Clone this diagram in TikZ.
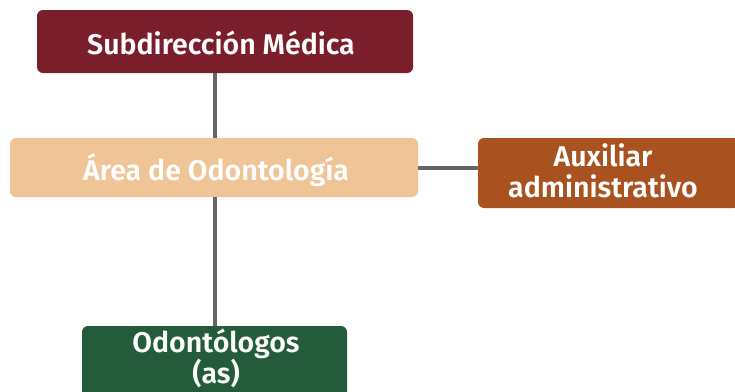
\documentclass[tikz,border=0pt]{standalone}
\usepackage{fontspec}
\setmainfont{Fira Sans}[UprightFont={* SemiBold}]
\definecolor{maroon}{HTML}{7B1E2C}
\definecolor{tan}{HTML}{EFC597}
\definecolor{rust}{HTML}{A9521F}
\definecolor{forest}{HTML}{245B3A}
\definecolor{linec}{HTML}{666666}
\begin{document}
\begin{tikzpicture}[x=1pt,y=-1pt,
  box/.style={rounded corners=6pt,draw=none},
  lbl/.style={text=white,font=\fontsize{28.5}{31}\selectfont,align=center,inner sep=0pt},
  conn/.style={draw=linec,line width=3.2pt}]
\useasboundingbox (0,0) rectangle (735,391);
\fill[white] (0,0) rectangle (735,391);
\path[fill=maroon,box] (37,10) rectangle (413,73);
\path[fill=tan,box] (10,138) rectangle (418,197);
\path[fill=rust,box] (478,138) rectangle (740,208);
\path[fill=forest,box] (82,326) rectangle (347,400);
\node[lbl] (sd) at (221,43) {Subdirección Médica};
\node[lbl] (area) at (216,170) {Área de Odontología};
\node[lbl] (aux) at (603,171) {Auxiliar\\administrativo};
\node[lbl] (odo) at (216,358) {Odontólogos\\(as)};
\coordinate (sdB) at (215,73);
\coordinate (arT) at (215,138);
\coordinate (arB) at (215,197);
\coordinate (odT) at (215,326);
\coordinate (arR) at (418,168);
\coordinate (auL) at (478,168);
\draw[conn] (sdB) -- (arT);
\draw[conn] (arB) -- (odT);
\draw[conn] (arR) -- (auL);
\end{tikzpicture}
\end{document}
